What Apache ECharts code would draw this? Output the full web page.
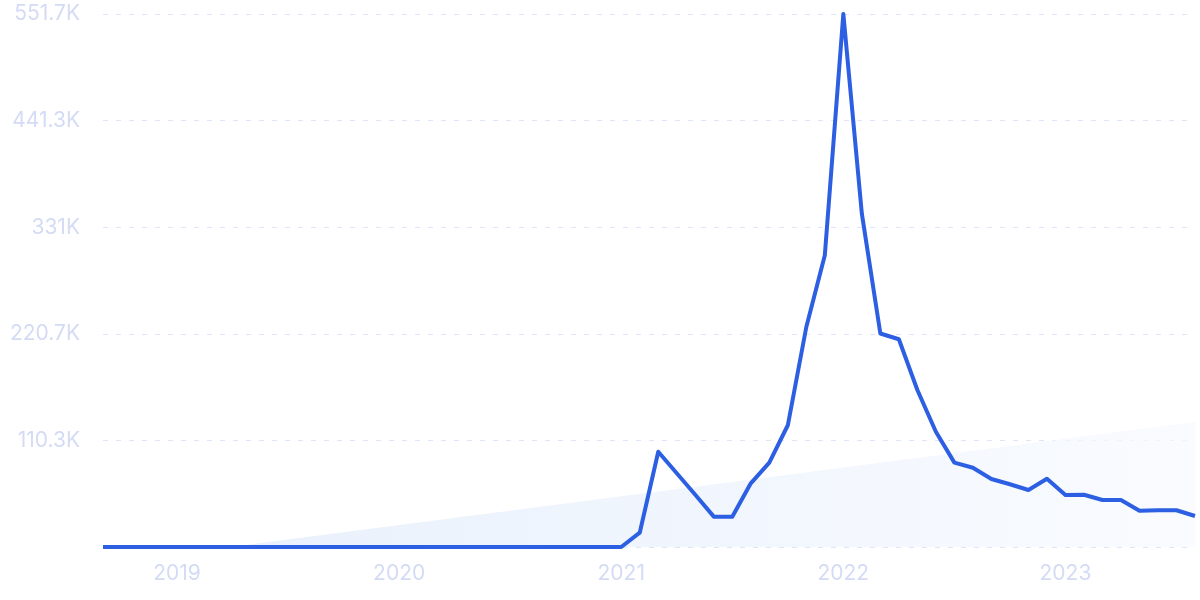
<!DOCTYPE html>
<html>
<head>
<meta charset="utf-8">
<script src="https://cdn.jsdelivr.net/npm/echarts@6/dist/echarts.min.js"></script>
<style>html,body{margin:0;padding:0;background:#fff}#c{width:1200px;height:600px}</style>
</head>
<body>
<div id="c"></div>
<script>
// Monthly categories Sep 2018 .. Aug 2023
const months = [
  '2018-09','2018-10','2018-11','2018-12',
  '2019-01','2019-02','2019-03','2019-04','2019-05','2019-06','2019-07','2019-08','2019-09','2019-10','2019-11','2019-12',
  '2020-01','2020-02','2020-03','2020-04','2020-05','2020-06','2020-07','2020-08','2020-09','2020-10','2020-11','2020-12',
  '2021-01','2021-02','2021-03','2021-04','2021-05','2021-06','2021-07','2021-08','2021-09','2021-10','2021-11','2021-12',
  '2022-01','2022-02','2022-03','2022-04','2022-05','2022-06','2022-07','2022-08','2022-09','2022-10','2022-11','2022-12',
  '2023-01','2023-02','2023-03','2023-04','2023-05','2023-06','2023-07','2023-08'
];
const values = [
  0,0,0,0,
  0,0,0,0,0,0,0,0,0,0,0,0,
  0,0,0,0,0,0,0,0,0,0,0,0,
  0,14800,98600,76400,54100,31400,31400,65900,87300,126000,227700,302000,
  551650,345000,221000,215000,162500,119300,87300,82000,70400,64900,59000,70700,
  53800,54100,48600,48600,37600,38000,38000,32100
];
// Trend line endpoints (first and last month)
const trend = [['2018-09', -17000], ['2023-08', 129400]];
const yMax = 551650;
const yInterval = 110330;

const fmt = v => {
  if (v === 0) return '';
  const k = Math.round(v / 100) / 10;
  return (Number.isInteger(k) ? k.toFixed(0) : k.toFixed(1)) + 'K';
};

const chart = echarts.init(document.getElementById('c'));
chart.setOption({
  animation: false,
  grid: { left: 103, right: 5, top: 14, bottom: 53, containLabel: false },
  xAxis: {
    type: 'category',
    data: months,
    boundaryGap: false,
    axisLine: { show: false },
    axisTick: { show: false },
    splitLine: { show: false },
    axisLabel: {
      interval: (i, v) => v.endsWith('-01'),
      formatter: v => v.slice(0, 4),
      color: '#d3dbf5',
      fontFamily: 'Inter',
      fontSize: 21,
      margin: 16
    }
  },
  yAxis: {
    type: 'value',
    min: 0,
    max: yMax,
    interval: yInterval,
    axisLine: { show: false },
    axisTick: { show: false },
    axisLabel: {
      formatter: fmt,
      color: '#d3dbf5',
      fontFamily: 'Inter',
      fontSize: 21,
      margin: 23
    },
    splitLine: {
      lineStyle: { color: '#dfe5f8', type: [5, 8], width: 1 }
    }
  },
  series: [
    {
      type: 'line',
      data: trend,
      symbol: 'none',
      clip: true,
      lineStyle: { width: 0, opacity: 0 },
      areaStyle: {
        origin: 'start',
        color: new echarts.graphic.LinearGradient(0, 0, 1, 0, [
          { offset: 0, color: '#dce8fa' },
          { offset: 1, color: '#f6f9fe' }
        ])
      },
      z: 1
    },
    {
      type: 'line',
      data: values,
      symbol: 'none',
      lineStyle: { color: '#2d5fe3', width: 4, join: 'round' },
      z: 3
    }
  ]
});
</script>
</body>
</html>
